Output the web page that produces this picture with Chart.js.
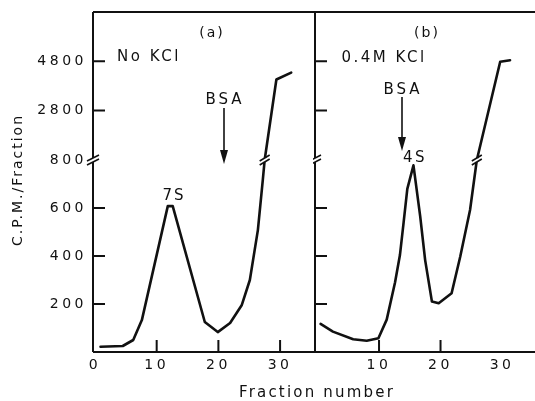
<!DOCTYPE html>
<html>
<head>
<meta charset="utf-8">
<script src="https://cdn.jsdelivr.net/npm/chart.js@4"></script>
<style>
  body { margin: 0; background: #fff; width: 535px; height: 401px; overflow: hidden; position: relative; font-family: "DejaVu Sans", sans-serif; color: #111; }
  canvas { position: absolute; top: 0; }
  .t { position: absolute; transform: translate(-50%, -50%); white-space: nowrap; line-height: 1; }
</style>
</head>
<body>
<canvas id="panelA" width="316" height="401" style="left:0"></canvas>
<canvas id="panelB" width="222" height="401" style="left:313px"></canvas>
<svg width="535" height="401" style="position:absolute;left:0;top:0">
  <line x1="224" y1="108" x2="224" y2="152" stroke="#111" stroke-width="1.6"/>
  <polygon points="220,150 228,150 224,164" fill="#111"/>
  <line x1="402" y1="97" x2="402" y2="139" stroke="#111" stroke-width="1.6"/>
  <polygon points="398,137 406,137 402,151" fill="#111"/>
</svg>
<div class="t" style="left:212px;top:32px;font-size:14px;letter-spacing:2px">(a)</div>
<div class="t" style="left:149px;top:56px;font-size:15px;letter-spacing:2.5px">No KCl</div>
<div class="t" style="left:225px;top:99px;font-size:15px;letter-spacing:3px">BSA</div>
<div class="t" style="left:174px;top:195px;font-size:15px;letter-spacing:2px">7S</div>
<div class="t" style="left:427px;top:32px;font-size:14px;letter-spacing:2px">(b)</div>
<div class="t" style="left:384px;top:57px;font-size:15px;letter-spacing:2.5px">0.4M KCl</div>
<div class="t" style="left:403px;top:89px;font-size:15px;letter-spacing:3px">BSA</div>
<div class="t" style="left:415px;top:157px;font-size:15px;letter-spacing:2.5px">4S</div>
<div class="t" style="left:17px;top:180px;font-size:14px;letter-spacing:2px;transform:translate(-50%,-50%) rotate(-90deg)">C.P.M./Fraction</div>
<div class="t" style="left:317px;top:392px;font-size:15px;letter-spacing:2.2px">Fraction number</div>
<script>
// (a) No KCl
const fractionsA = [0.9, 4.5, 6.2, 7.6, 11.8, 12.6, 17.8, 19.9, 21.9, 23.8, 25.1, 26.4, 27.2, 27.5, 29.4, 31.8];
const cpmA = [22, 25, 50, 133, 608, 608, 125, 83, 121, 196, 300, 508, 717, 800, 4060, 4340];
// (b) 0.4M KCl
const fractionsB = [0.5, 2.5, 5.8, 8.0, 9.9, 11.25, 12.6, 13.4, 14.0, 14.6, 15.6, 16.7, 17.5, 18.6, 19.7, 21.8, 23.2, 24.8, 25.9, 29.7, 31.3];
const cpmB = [117, 85, 53, 47, 57, 135, 290, 404, 540, 680, 778, 564, 383, 210, 203, 245, 397, 592, 800, 4780, 4840];

const yTickLabels = [200, 400, 600, 800, 2800, 4800];
const xTickLabelsA = [0, 10, 20, 30];
const xTickLabelsB = [10, 20, 30];
const xTickMarksA = [10, 20, 30];
const xTickMarksB = [10, 20];

// broken axis: above 800 the scale is compressed
const BREAK = 800;
const toAxis = (v) => (v <= BREAK ? v : BREAK + (v - BREAK) * 0.103);

function drawBreak(ctx, cx, cy, half) {
  ctx.beginPath();
  ctx.moveTo(cx - half, cy + 1);
  ctx.lineTo(cx + half, cy - 5);
  ctx.moveTo(cx - half, cy + 5);
  ctx.lineTo(cx + half, cy - 1);
  ctx.stroke();
}

const panelFrame = {
  id: "panelFrame",
  beforeDraw(chart) {
    chart.ctx.letterSpacing = "3.5px";
  },
  afterDatasetsDraw(chart, args, opts) {
    const { ctx, chartArea: area } = chart;
    const x = chart.scales.x;
    const y = chart.scales.y;
    const breakY = y.getPixelForValue(toAxis(BREAK));
    ctx.save();
    ctx.letterSpacing = "0px";
    ctx.strokeStyle = "#111";
    ctx.lineWidth = 2;
    ctx.lineCap = "butt";
    ctx.beginPath();
    ctx.moveTo(area.left, area.top);
    ctx.lineTo(area.right, area.top);
    ctx.moveTo(area.left, area.bottom);
    ctx.lineTo(area.right, area.bottom);
    ctx.moveTo(area.left, area.top);
    ctx.lineTo(area.left, breakY - 2);
    ctx.moveTo(area.left, breakY + 2);
    ctx.lineTo(area.left, area.bottom);
    yTickLabels.forEach((v) => {
      if (v === BREAK) return;
      const py = y.getPixelForValue(toAxis(v));
      ctx.moveTo(area.left, py);
      ctx.lineTo(area.left + 12, py);
    });
    opts.xMarks.forEach((v) => {
      const px = x.getPixelForValue(v);
      ctx.moveTo(px, area.bottom);
      ctx.lineTo(px, area.bottom - 12);
    });
    ctx.stroke();
    ctx.lineWidth = 1.6;
    drawBreak(ctx, area.left, breakY, 6);

    // break marks on the curve where it crosses 800
    const pts = chart.getDatasetMeta(0).data;
    for (let i = 1; i < pts.length; i++) {
      const a = pts[i - 1];
      const b = pts[i];
      if ((a.y - breakY) * (b.y - breakY) > 0 || a.y === b.y) continue;
      const t = (a.y - breakY) / (a.y - b.y);
      if (t <= 0 && i > 1) continue;
      const cx = a.x + (b.x - a.x) * t;
      const len = Math.hypot(b.x - a.x, b.y - a.y);
      const dx = (b.x - a.x) / len;
      const dy = (b.y - a.y) / len;
      ctx.strokeStyle = "#fff";
      ctx.lineWidth = 5;
      ctx.beginPath();
      ctx.moveTo(cx - dx * 2, breakY - dy * 2);
      ctx.lineTo(cx + dx * 2, breakY + dy * 2);
      ctx.stroke();
      ctx.strokeStyle = "#111";
      ctx.lineWidth = 1.6;
      drawBreak(ctx, cx, breakY, 5);
      break;
    }
    ctx.restore();
  }
};

function buildPanel(canvasId, fractions, cpm, panel) {
  const context = document.getElementById(canvasId).getContext("2d");
  return new Chart(context, {
    type: "line",
    data: {
      datasets: [{
        data: fractions.map((f, i) => ({ x: f, y: toAxis(cpm[i]) })),
        borderColor: "#111",
        borderWidth: 2.6,
        pointRadius: 0,
        tension: 0,
        borderCapStyle: "round",
        borderJoinStyle: "round"
      }]
    },
    options: {
      responsive: false,
      animation: false,
      devicePixelRatio: 1,
      layout: { padding: { top: 12, right: 0, bottom: 0, left: 0 } },
      plugins: {
        legend: { display: false },
        tooltip: { enabled: false },
        panelFrame: { xMarks: panel.xMarks }
      },
      scales: {
        x: {
          type: "linear",
          min: panel.xMin,
          max: panel.xMax,
          grid: { display: false },
          border: { display: false },
          afterFit: (scale) => {
            scale.height = 49;
            scale.paddingLeft = 0;
            scale.paddingRight = 0;
          },
          afterBuildTicks: (scale) => { scale.ticks = panel.xLabels.map((v) => ({ value: v })); },
          ticks: {
            color: "#111",
            font: { family: "DejaVu Sans", size: 14 },
            padding: -3,
            maxRotation: 0,
            autoSkip: false,
            callback: (value) => String(value)
          }
        },
        y: {
          type: "linear",
          min: 0,
          max: 1417,
          grid: { display: false },
          border: { display: false },
          afterFit: (scale) => {
            scale.width = panel.yWidth;
            scale.paddingTop = 0;
            scale.paddingBottom = 0;
          },
          afterBuildTicks: (scale) => { scale.ticks = yTickLabels.map((v) => ({ value: toAxis(v) })); },
          ticks: {
            display: panel.showYLabels,
            color: "#111",
            font: { family: "DejaVu Sans", size: 14 },
            padding: -2,
            autoSkip: false,
            callback: (value) => {
              const hit = yTickLabels.find((v) => Math.abs(toAxis(v) - value) < 0.5);
              return hit === undefined ? "" : String(hit);
            }
          }
        }
      }
    },
    plugins: [panelFrame]
  });
}

buildPanel("panelA", fractionsA, cpmA, {
  xMin: -0.32, xMax: 35.82, xLabels: xTickLabelsA, xMarks: xTickMarksA, yWidth: 93, showYLabels: true
});
buildPanel("panelB", fractionsB, cpmB, {
  xMin: -0.41, xMax: 35.36, xLabels: xTickLabelsB, xMarks: xTickMarksB, yWidth: 2, showYLabels: false
});
</script>
</body>
</html>
